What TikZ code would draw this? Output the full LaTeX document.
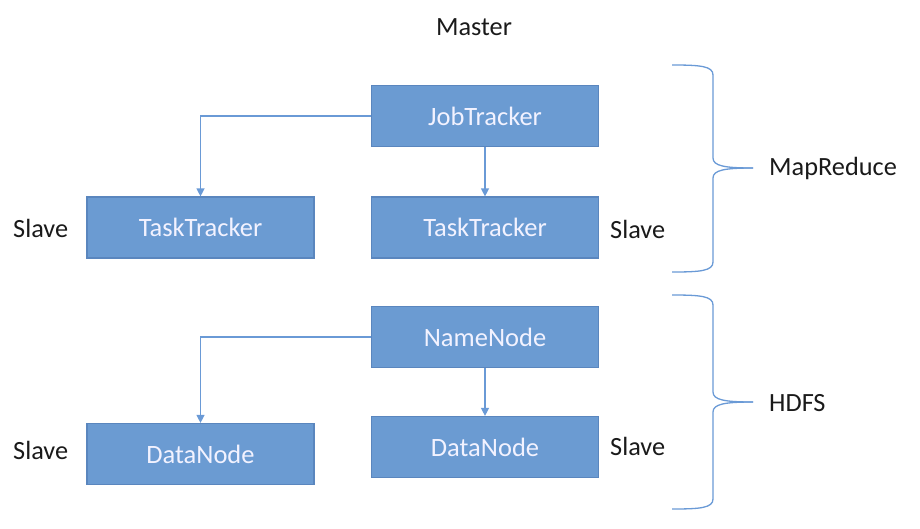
\documentclass[tikz,border=0pt]{standalone}
\usepackage{fontspec}
\setmainfont{Carlito}
\usetikzlibrary{arrows.meta}
\definecolor{boxfill}{HTML}{6B9BD2}
\definecolor{boxline}{HTML}{5A86BE}
\definecolor{linkc}{HTML}{6A9AD6}
\definecolor{txtc}{HTML}{1A1A1A}
\tikzset{
  comp/.style={draw=boxline, line width=1.2pt, fill=boxfill, text=white!95!blue, minimum width=227pt, minimum height=61pt, inner sep=0pt, font=\fontsize{26.5}{30}\selectfont},
  lbl/.style={text=txtc, inner sep=0pt, font=\fontsize{26.3}{30}\selectfont},
  link/.style={draw=linkc, line width=1.3pt, -{Triangle[width=8pt,length=8pt]}},
  brace/.style={draw=linkc, line width=1.3pt}
}
\begin{document}
\begin{tikzpicture}[x=1pt,y=-1pt]
\useasboundingbox (0,0) rectangle (920,528);
\node[lbl] (master) at (474,27) {Master};
\node[comp] (jt) at (485,116) {JobTracker};
\node[comp] (tt1) at (200.5,227.5) {TaskTracker};
\node[comp] (tt2) at (485,227.5) {TaskTracker};
\node[comp] (nn) at (485,337) {NameNode};
\node[comp] (dn1) at (200.5,454) {DataNode};
\node[comp] (dn2) at (485,447) {DataNode};
\node[lbl,anchor=west] (s1) at (13,228) {Slave};
\node[lbl,anchor=west] (s2) at (610,229) {Slave};
\node[lbl,anchor=west] (s3) at (13,450) {Slave};
\node[lbl,anchor=west] (s4) at (610,446) {Slave};
\node[lbl,anchor=west] (mr) at (769,168) {MapReduce};
\node[lbl,anchor=west] (hd) at (769,403) {HDFS};
\draw[link] (jt.west) -| (tt1.north);
\draw[link] (jt.south) -- (tt2.north);
\draw[link] (nn.west) -| (dn1.north);
\draw[link] (nn.south) -- (dn2.north);
% braces
\coordinate (b1tip) at (753,168);
\coordinate (b2tip) at (753,402);
\draw[brace] (672,65) .. controls (700,65) and (713,66) .. (713,75) -- (713,158)
  .. controls (713,166) and (725,168) .. (b1tip);
\draw[brace] (672,272) .. controls (700,272) and (713,271) .. (713,262) -- (713,178)
  .. controls (713,170) and (725,168) .. (b1tip);
\draw[brace] (672,295) .. controls (700,295) and (713,296) .. (713,305) -- (713,392)
  .. controls (713,400) and (725,402) .. (b2tip);
\draw[brace] (672,509) .. controls (700,509) and (713,508) .. (713,499) -- (713,412)
  .. controls (713,404) and (725,402) .. (b2tip);
\end{tikzpicture}
\end{document}
